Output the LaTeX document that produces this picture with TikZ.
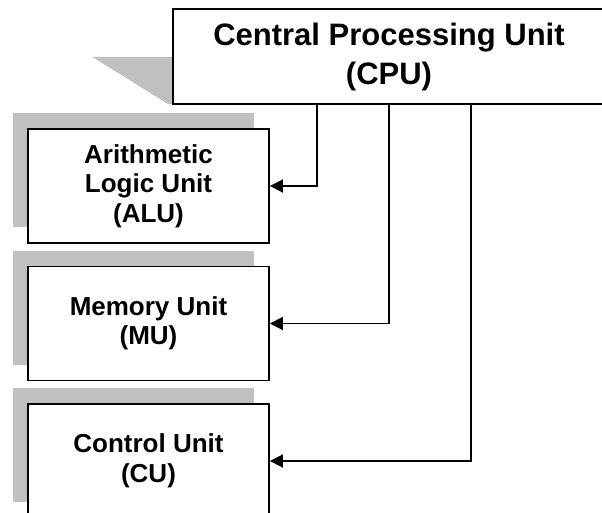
\documentclass[tikz,border=0pt]{standalone}
\usepackage{fontspec}
\setmainfont{Liberation Sans}
\usetikzlibrary{arrows.meta,shadows,positioning}
\definecolor{shadowgray}{RGB}{192,192,192}
\tikzstyle{unitblock} = [draw, fill=white, rectangle, line width=1.9pt, minimum width=241pt, minimum height=114pt, align=center, font=\fontsize{26}{29.5}\selectfont\bfseries, general shadow={draw=none, fill=shadowgray, shadow xshift=-15pt, shadow yshift=16pt}]
\tikzstyle{line} = [draw, line width=1.9pt, -{Triangle[length=13pt,width=13pt]}]

\begin{document}
\begin{tikzpicture}[x=1pt, y=-1pt, node distance=137.5pt]
    \useasboundingbox (0,0) rectangle (602,512);
    % Define styles for blocks
    \tikzstyle{cpublock} = [draw, fill=white, rectangle, line width=1.9pt, minimum width=432pt, minimum height=95pt, align=center, font=\fontsize{31}{39}\selectfont\bfseries]

    % Shadow behind the CPU block
    \fill [shadowgray] (92,56.75) -- (173,56.75) -- (173,104) -- (168,104) -- cycle;

    % Place nodes
    \node [cpublock] (cpu) at (389,56.75) {Central Processing Unit\\(CPU)};
    \node [unitblock] (alu) at (148.5,186) {Arithmetic\\Logic Unit\\(ALU)};
    \node [unitblock, below of = alu] (mu) {Memory Unit\\(MU)};
    \node [unitblock, below of = mu] (cu) {Control Unit\\(CU)};

    % Draw edges
    \path [line] ([xshift=-72pt]cpu.south) |- (alu.east);
    \path [line] (cpu.south) |- (mu.east);
    \path [line] ([xshift=82pt]cpu.south) |- (cu.east);
\end{tikzpicture}
\end{document}
